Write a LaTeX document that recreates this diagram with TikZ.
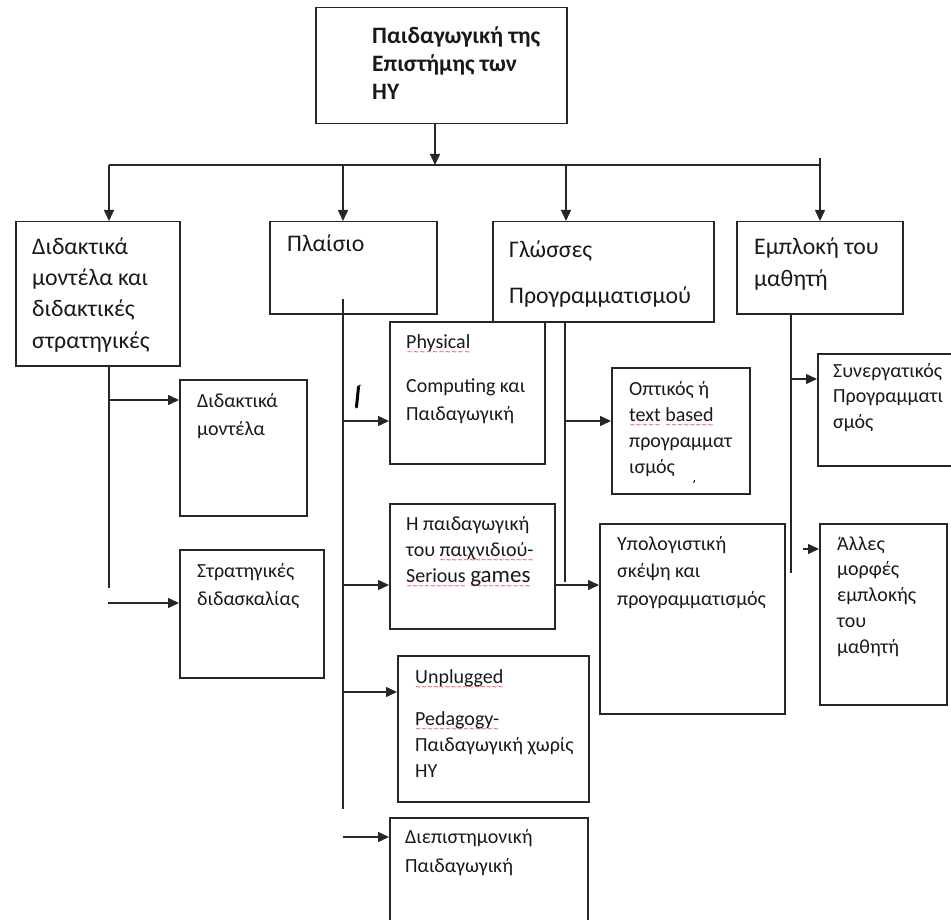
\documentclass[tikz,border=0pt]{standalone}
\usepackage{fontspec}
\setmainfont{Carlito}
\newfontfamily\wavefont{DejaVu Sans}
\usetikzlibrary{arrows.meta}
% red wavy underline, as left by a spell checker
\newsavebox\wavebox
\newcommand\spellwave[1]{\sbox\wavebox{#1}%
  \rlap{\raisebox{-6.5pt}[0pt][0pt]{\hbox to \wd\wavebox{\color{red}\wavefont\fontsize{7}{7}\selectfont\xleaders\hbox{\char"223C}\hfill}}}%
  \usebox\wavebox}
% texts are placed by the baseline of their last line
\tikzset{
  box/.style={draw=black!85, line width=1.5pt, anchor=north west, inner sep=0pt, fill=none},
  lbl/.style={anchor=base west, inner sep=0pt, align=left, text=black!90},
  conn/.style={draw=black!85, line width=1.5pt},
  arr/.style={conn, -{Triangle[length=11pt,width=10pt]}},
  topfont/.style={font=\bfseries\fontsize{23.5}{28}\selectfont},
  catfont/.style={font=\fontsize{23.8}{#1}\selectfont},
  subfont/.style={font=\fontsize{20}{#1}\selectfont}
}
\begin{document}
\begin{tikzpicture}[x=1pt,y=-1pt]
\useasboundingbox (0,0) rectangle (951,920);
\clip (0,0) rectangle (951,920);

% ---- boxes ----
\node[box, minimum width=251, minimum height=116] (root) at (315,7) {};
\node[box, minimum width=164, minimum height=144] (cat1) at (15,221) {};
\node[box, minimum width=167, minimum height=92]  (cat2) at (269,221) {};
\node[box, minimum width=221, minimum height=100] (cat3) at (492,221) {};
\node[box, minimum width=166, minimum height=92]  (cat4) at (736,221) {};

\node[box, minimum width=127, minimum height=136] (dm)    at (179,379) {};
\node[box, minimum width=144, minimum height=128] (sd)    at (179,549) {};
\node[box, minimum width=155, minimum height=142] (phys)  at (389,321) {};
\node[box, minimum width=165, minimum height=125] (game)  at (389,503) {};
\node[box, minimum width=191, minimum height=146] (unpl)  at (397,655) {};
\node[box, minimum width=198, minimum height=112] (inter) at (389,817) {};
\node[box, minimum width=138, minimum height=126] (vis)   at (611,367) {};
\node[box, minimum width=185, minimum height=190] (ct)    at (599,523) {};
\node[box, minimum width=136, minimum height=112] (coll)  at (817,353) {};
\node[box, minimum width=127, minimum height=181] (other) at (819,523) {};

% ---- texts ----
\node[lbl, topfont] (root-t) at (372,100) {Παιδαγωγική της\\Επιστήμης των\\HY};
\node[lbl, catfont=31.3] (cat1-t) at (32,348) {Διδακτικά\\μοντέλα και\\διδακτικές\\στρατηγικές};
\node[lbl, catfont=30] (cat2-t) at (287,252) {Πλαίσιο};
\node[lbl, catfont=46] (cat3-t) at (509,303) {Γλώσσες\\Προγραμματισμού};
\node[lbl, catfont=32] (cat4-t) at (754,287) {Εμπλοκή του\\μαθητή};

\node[lbl, subfont=27.5] (dm-t) at (197,435) {Διδακτικά\\μοντέλα};
\node[lbl, subfont=28] (sd-t) at (197,605) {Στρατηγικές\\διδασκαλίας};
\node[lbl, subfont=28] (phys-t) at (406,420) {\spellwave{Physical}\\[16pt]Computing και\\Παιδαγωγική};
\node[lbl, subfont=26] (game-t) at (406,582) {Η παιδαγωγική\\του \spellwave{παιχνιδιού-}\\\spellwave{Serious} \spellwave{{\fontsize{23}{26}\selectfont games}}};
\node[lbl, subfont=26] (unpl-t) at (415,777) {\spellwave{Unplugged}\\[16pt]\spellwave{Pedagogy-}\\Παιδαγωγική χωρίς\\HY};
\node[lbl, subfont=29] (inter-t) at (405,872) {Διεπιστημονική\\Παιδαγωγική};
\node[lbl, subfont=26] (vis-t) at (629,473) {Οπτικός ή\\\spellwave{text} \spellwave{based}\\προγραμματ\\ισμός};
\node[lbl, subfont=27.5] (ct-t) at (617,605) {Υπολογιστική\\σκέψη και\\προγραμματισμός};
\node[lbl, subfont=25.5] (coll-t) at (833,428) {Συνεργατικός\\Προγραμματι\\σμός};
\node[lbl, subfont=25.7] (other-t) at (837,653) {Άλλες\\μορφές\\εμπλοκής\\του\\μαθητή};

% ---- top level bus ----
\coordinate (hub)    at (435,165);
\coordinate (busL)   at (109,165);
\coordinate (bus2)   at (343,165);
\coordinate (bus3)   at (566,165);
\coordinate (busR)   at (820,165);
\coordinate (busTip) at (820,158);
\draw[arr] (hub |- root.south) -- (hub);
\draw[conn, line join=miter] (busL) -- (busR) -- (busTip);
\draw[arr] (busL) -- (busL |- cat1.north);
\draw[arr] (bus2) -- (bus2 |- cat2.north);
\draw[arr] (bus3) -- (bus3 |- cat3.north);
\draw[arr] (busR) -- (busR |- cat4.north);

% ---- didactic models branch ----
\coordinate (v1end) at (109,588);
\coordinate (j1)    at (109,400);
\coordinate (s1)    at (108,603);
\draw[conn] (busL |- cat1.south) -- (v1end);
\draw[arr] (j1) -- (j1 -| dm.west);
\draw[arr] (s1) -- (s1 -| sd.west);

% ---- framework branch ----
\coordinate (v2top) at (343,299);
\coordinate (v2end) at (343,809);
\coordinate (j2a)   at (343,421);
\coordinate (j2b)   at (343,585);
\coordinate (j2c)   at (343,692);
\coordinate (s2)    at (343,837);
\draw[conn] (v2top) -- (v2end);
\draw[arr] (j2a) -- (j2a -| phys.west);
\draw[arr] (j2b) -- (j2b -| game.west);
\draw[arr] (j2c) -- (j2c -| unpl.west);
\draw[arr] (s2) -- (s2 -| inter.west);

% ---- programming languages branch ----
\coordinate (v3end) at (565,582);
\coordinate (j3)    at (565,421);
\draw[conn] (v3end |- cat3.south) -- (v3end);
\draw[arr] (j3) -- (j3 -| vis.west);
\coordinate (g1) at (554,585);
\draw[arr] (g1) -- (g1 -| ct.west);

% ---- learner engagement branch ----
\coordinate (v4end) at (791,573);
\coordinate (j4)    at (791,379);
\coordinate (s4)    at (803,549);
\draw[conn] (v4end |- cat4.south) -- (v4end);
\draw[arr] (j4) -- (j4 -| coll.west);
\draw[arr] (s4) -- (s4 -| other.west);

% ---- stray pen marks ----
\draw[line width=3pt, line cap=round] (356.5,407) -- (358.5,387);
\draw[line width=1pt] (358,386.5) -- (360.5,385);
\draw[line width=1pt, line cap=round] (694.5,480.5) -- (693.8,482.5);
\end{tikzpicture}
\end{document}
